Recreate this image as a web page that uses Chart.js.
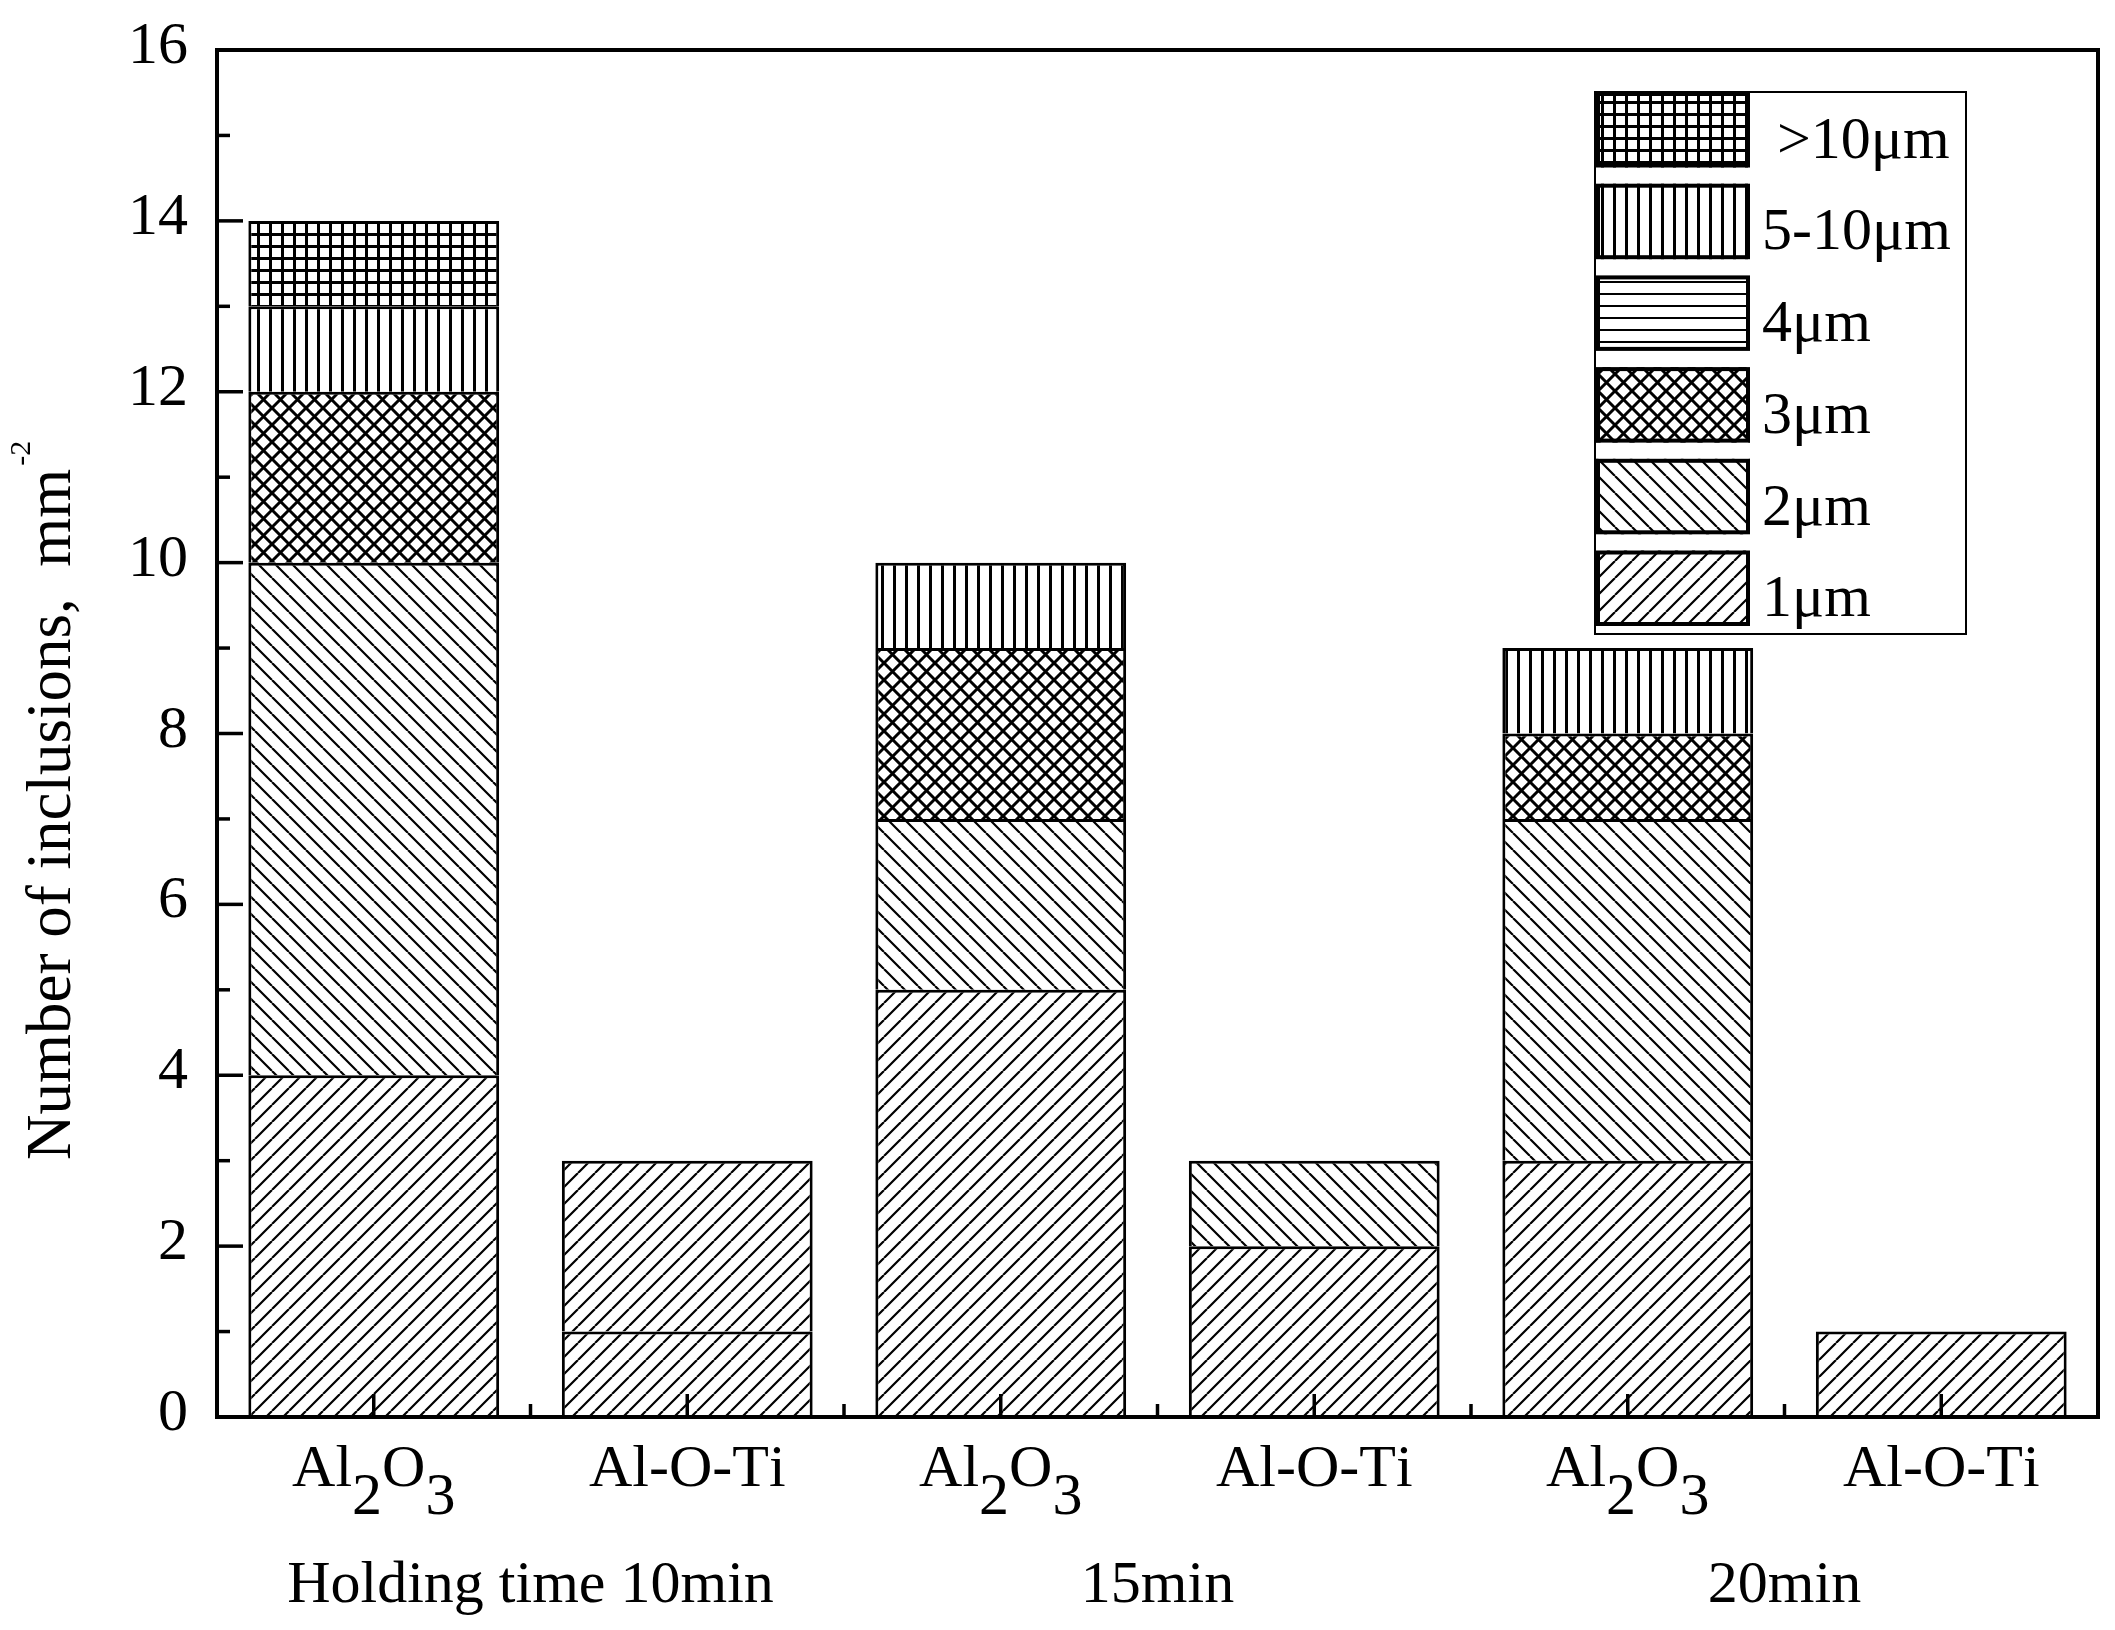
<!DOCTYPE html>
<html>
<head>
<meta charset="utf-8">
<script src="https://cdn.jsdelivr.net/npm/chart.js@4.4.1/dist/chart.umd.min.js"></script>
<style>
html,body{margin:0;padding:0;background:#fff;}
canvas{display:block;}
</style>
</head>
<body>
<canvas id="c" width="2115" height="1630" style="width:2115px;height:1630px"></canvas>
<script>
// ---------------- data ----------------
const categories = ['Al2O3', 'Al-O-Ti', 'Al2O3', 'Al-O-Ti', 'Al2O3', 'Al-O-Ti'];
const groupLabels = ['Holding time 10min', '15min', '20min'];
const seriesNames = ['1μm', '2μm', '3μm', '4μm', '5-10μm', ' >10μm'];
const s1um      = [4, 1, 5, 2, 3, 1];
const s2um      = [6, 2, 2, 1, 4, 0];
const s3um      = [2, 0, 2, 0, 1, 0];
const s4um      = [0, 0, 0, 0, 0, 0];
const s5to10um  = [1, 0, 1, 0, 1, 0];
const sOver10um = [1, 0, 0, 0, 0, 0];
const yTicks = [0, 2, 4, 6, 8, 10, 12, 14, 16];
const yTitle = 'Number of inclusions,  mm';
const yTitleSup = '-2';

const FONT = '"Liberation Serif", "DejaVu Serif", serif';

// ---------------- hatch patterns ----------------
const canvas = document.getElementById('c');
const mainCtx = canvas.getContext('2d');

function makePattern(type) {
  let s = 17;
  if (type === 'h' || type === 'v' || type === 'grid') s = 12;
  const c = document.createElement('canvas');
  c.width = s; c.height = s;
  const g = c.getContext('2d');
  g.fillStyle = '#fff';
  g.fillRect(0, 0, s, s);
  g.strokeStyle = '#000';
  g.beginPath();
  if (type === 'slash' || type === 'back' || type === 'cross') {
    g.lineWidth = type === 'cross' ? 3 : 2.2;
    for (let k = -1; k <= 1; k++) {
      if (type === 'slash' || type === 'cross') {
        g.moveTo(k * s, s); g.lineTo(k * s + s, 0);
      }
      if (type === 'back' || type === 'cross') {
        g.moveTo(k * s, 0); g.lineTo(k * s + s, s);
      }
    }
  } else if (type === 'h') {
    g.lineWidth = 2;
    g.moveTo(0, 6); g.lineTo(s, 6);
  } else if (type === 'v') {
    g.lineWidth = 3;
    g.moveTo(6.5, 0); g.lineTo(6.5, s);
  } else if (type === 'grid') {
    g.lineWidth = 3;
    g.moveTo(6.5, 0); g.lineTo(6.5, s);
    g.moveTo(0, 6.5); g.lineTo(s, 6.5);
  }
  g.stroke();
  return mainCtx.createPattern(c, 'repeat');
}

const P = {
  slash: makePattern('slash'),
  back: makePattern('back'),
  cross: makePattern('cross'),
  h: makePattern('h'),
  v: makePattern('v'),
  grid: makePattern('grid')
};
const legendPatterns = [P.slash, P.back, P.cross, P.h, P.v, P.grid];

// ---------------- custom drawing plugin ----------------
function line(ctx, x1, y1, x2, y2) {
  ctx.beginPath(); ctx.moveTo(x1, y1); ctx.lineTo(x2, y2); ctx.stroke();
}

function drawFormula(ctx, text, cx, baseline, size) {
  // in a chemical formula such as Al2O3 the digits are drawn as subscripts
  ctx.font = size + 'px ' + FONT;
  const isFormula = /[A-Za-z][0-9]/.test(text);
  const parts = [];
  let total = 0;
  for (const ch of text) {
    const sub = isFormula && /[0-9]/.test(ch);
    const w = ctx.measureText(ch).width;
    parts.push({ ch, sub, w });
    total += w;
  }
  let x = cx - total / 2;
  ctx.textAlign = 'left';
  ctx.textBaseline = 'alphabetic';
  for (const p of parts) {
    ctx.fillText(p.ch, x, baseline + (p.sub ? 28 : 0));
    x += p.w;
  }
}

const framePlugin = {
  id: 'framePlugin',
  beforeDraw(chart) {
    const c = chart.ctx;
    c.save();
    c.fillStyle = '#fff';
    c.fillRect(0, 0, chart.width, chart.height);
    c.restore();
  },
  afterDatasetsDraw(chart) {
    const ctx = chart.ctx;
    const a = chart.chartArea;
    const xs = chart.scales.x;
    const ys = chart.scales.y;
    ctx.save();
    ctx.strokeStyle = '#000';
    ctx.fillStyle = '#000';
    ctx.lineCap = 'butt';

    // y ticks (inward)
    ctx.lineWidth = 3.5;
    const tv = ys.ticks.map(t => t.value);
    tv.forEach(v => {
      const py = ys.getPixelForValue(v);
      line(ctx, a.left, py, a.left + 26, py);
    });
    for (let i = 0; i < tv.length - 1; i++) {
      const py = ys.getPixelForValue((tv[i] + tv[i + 1]) / 2);
      line(ctx, a.left, py, a.left + 13, py);
    }
    // x ticks (inward)
    for (let i = 0; i < categories.length; i++) {
      const px = xs.getPixelForValue(i);
      line(ctx, px, a.bottom, px, a.bottom - 23);
    }
    for (let i = 0; i < categories.length - 1; i++) {
      const px = (xs.getPixelForValue(i) + xs.getPixelForValue(i + 1)) / 2;
      line(ctx, px, a.bottom, px, a.bottom - 13);
    }
    // frame
    ctx.lineWidth = 4;
    ctx.strokeRect(a.left, a.top, a.right - a.left, a.bottom - a.top);

    // y tick labels
    ctx.font = '60px ' + FONT;
    ctx.textAlign = 'right';
    ctx.textBaseline = 'alphabetic';
    tv.forEach(v => {
      const py = ys.getPixelForValue(v);
      ctx.fillText(String(v), a.left - 29, py + 13);
    });

    // x category labels
    categories.forEach((lab, i) => {
      drawFormula(ctx, lab, xs.getPixelForValue(i), a.bottom + 69, 60);
    });
    // group labels
    ctx.font = '60px ' + FONT;
    ctx.textAlign = 'center';
    groupLabels.forEach((lab, g) => {
      const px = (xs.getPixelForValue(2 * g) + xs.getPixelForValue(2 * g + 1)) / 2;
      ctx.fillText(lab, px, a.bottom + 185);
    });

    // y axis title
    ctx.save();
    ctx.translate(70, a.bottom - 257);
    ctx.rotate(-Math.PI / 2);
    ctx.font = '63px ' + FONT;
    ctx.textAlign = 'left';
    ctx.fillText(yTitle, 0, 0);
    const w = ctx.measureText(yTitle).width;
    ctx.font = '30px ' + FONT;
    ctx.fillText(yTitleSup, w + 3, -40);
    ctx.restore();

    // legend
    const lx = 1595, ly = 92, lw = 371, lh = 542;
    const pw = 154, ph = 75.5, pitch = 91.7;
    ctx.lineWidth = 2;
    ctx.strokeRect(lx, ly, lw, lh);
    ctx.font = '60px ' + FONT;
    ctx.textAlign = 'left';
    const n = chart.data.datasets.length;
    for (let r = 0; r < n; r++) {
      const di = n - 1 - r;
      const top = ly + r * pitch;
      ctx.fillStyle = legendPatterns[di];
      ctx.fillRect(lx + 1, top, pw, ph);
      ctx.lineWidth = 4;
      ctx.strokeRect(lx + 3, top + 2, pw - 4, ph - 4);
      ctx.fillStyle = '#000';
      ctx.fillText(chart.data.datasets[di].label, 1762, top + ph / 2 + 28);
    }
    ctx.restore();
  }
};

// ---------------- chart ----------------
new Chart(canvas, {
  type: 'bar',
  data: {
    labels: categories,
    datasets: [
      { label: seriesNames[0], data: s1um, backgroundColor: P.slash },
      { label: seriesNames[1], data: s2um,
        backgroundColor: (c) => (c.dataIndex === 1 ? P.slash : P.back) },
      { label: seriesNames[2], data: s3um, backgroundColor: P.cross },
      { label: seriesNames[3], data: s4um, backgroundColor: P.h },
      { label: seriesNames[4], data: s5to10um, backgroundColor: P.v },
      { label: seriesNames[5], data: sOver10um, backgroundColor: P.grid }
    ]
  },
  options: {
    responsive: false,
    devicePixelRatio: 1,
    animation: false,
    layout: { padding: { left: 0, top: 50, right: 17, bottom: 0 } },
    plugins: { legend: { display: false }, tooltip: { enabled: false } },
    datasets: {
      bar: {
        barPercentage: 0.8,
        categoryPercentage: 1.0,
        borderColor: '#000',
        borderWidth: 3,
        inflateAmount: 0
      }
    },
    scales: {
      x: {
        stacked: true,
        grid: { display: false, drawTicks: false },
        border: { display: false },
        ticks: { display: false },
        afterFit(s) { s.height = 213; }
      },
      y: {
        stacked: true,
        min: yTicks[0],
        max: yTicks[yTicks.length - 1],
        ticks: { display: false, stepSize: yTicks[1] - yTicks[0] },
        grid: { display: false, drawTicks: false },
        border: { display: false },
        afterFit(s) { s.width = 217; }
      }
    }
  },
  plugins: [framePlugin]
});
</script>
</body>
</html>
